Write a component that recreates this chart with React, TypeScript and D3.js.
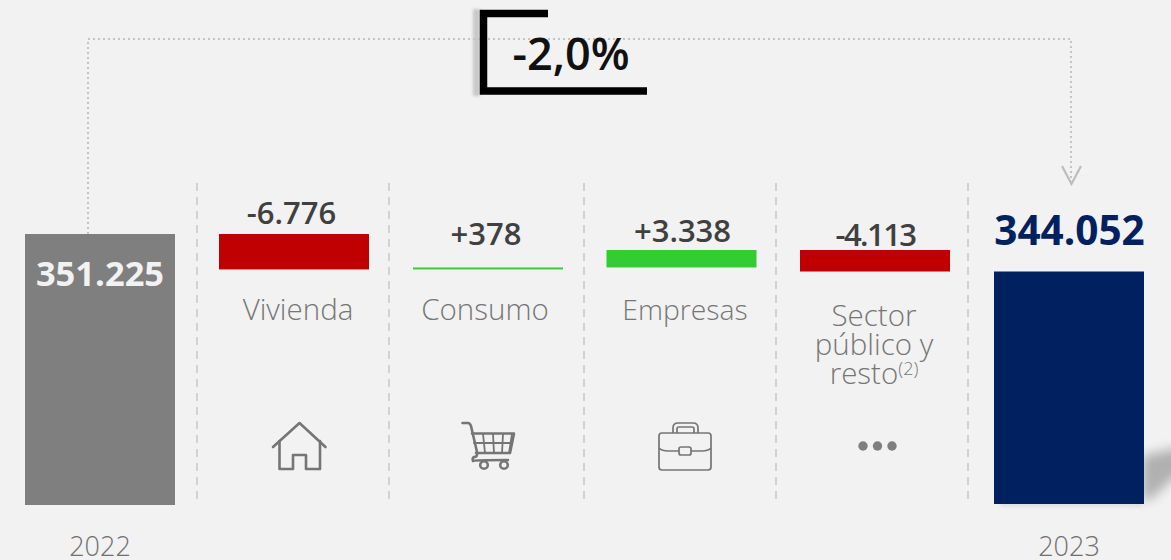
import React from "react";
import * as d3 from "d3";

const FONT = "'Open Sans', 'Noto Sans', sans-serif";
const startYear = "2022";
const endYear = "2023";
const startValue = 351225;
const endValue = 344052;
const startLabel = "351.225";
const endLabel = "344.052";
const deltaLabels = ["-6.776", "+378", "+3.338", "-4.113"];
const deltas = [-6776, 378, 3338, -4113];
const categoryLines = [["Vivienda"], ["Consumo"], ["Empresas"], ["Sector", "público y", "resto"]];
const changeLabel = "-2,0%";

const W = 1171, H = 560;
const y = d3.scaleLinear().domain([299400, 351225]).range([505, 234]);
const barCenters = [100, 294, 488, 681.5, 875, 1069];
const colX = d3.scaleOrdinal<number, number>().domain([0, 1, 2, 3, 4, 5]).range(barCenters);
const barW = 150;
const separators = [197, 389, 584, 776, 968];

const cum = deltas.reduce<number[]>((acc, d) => { acc.push(acc[acc.length - 1] + d); return acc; }, [startValue]);
const labelYs = [224, 245, 242, 246];
const labelXs = [291.5, 486, 682.5, 875.5];
const labelSpacing = [0, 0, 0, -1.6];
const catYs = [320, 320, 320, 326];
const catXs = [298, 485, 685, 874];
const catSizes = [29.5, 29.5, 28.3, 29.5];

const ICON = "#757575";

export default function App() {
  return (
    <svg width={W} height={H} viewBox={`0 0 ${W} ${H}`} style={{ position: "fixed", left: 0, top: 0, background: "#f2f2f2", fontFamily: FONT }}>
      <defs>
        <filter id="b1" x="-50%" y="-50%" width="200%" height="200%"><feGaussianBlur stdDeviation="6" /></filter>
        <filter id="b2" x="-50%" y="-50%" width="200%" height="200%"><feGaussianBlur stdDeviation="2.5" /></filter>
        <filter id="b3" x="-100%" y="-10%" width="300%" height="120%"><feGaussianBlur stdDeviation="1.5" /></filter>
      </defs>
      <rect width={W} height={H} fill="#f2f2f2" />

      {/* shadows */}
      <polygon points="1142,456 1185,446 1185,468 1152,498 1142,502" fill="#b0b0b0" filter="url(#b1)" />
      <rect x={1000} y={500} width={142} height={6} fill="#d8d8d8" filter="url(#b2)" />

      {/* separators */}
      {separators.map((x) => (
        <line key={x} x1={x} x2={x} y1={183} y2={500} stroke="#d2d2d2" strokeWidth={2} strokeDasharray="8 6" />
      ))}

      {/* connector */}
      <path d="M88,234V39H1071V182" fill="none" stroke="#c4c4c4" strokeWidth={2} strokeDasharray="2 3" />
      <path d="M1062,166L1071.5,184L1081,166" fill="none" stroke="#bdbdbd" strokeWidth={2.2} />

      {/* change box */}
      <rect x={473} y={9} width={7} height={87} fill="#c8c8c8" filter="url(#b3)" />
      <path d="M548,13.5H483.5V91H647" fill="none" stroke="#000" strokeWidth={7.5} />
      <text x={571} y={70} textAnchor="middle" fontSize={45} fontWeight={600} fill="#111">{changeLabel}</text>

      {/* totals */}
      <rect x={colX(0) - barW / 2} y={y(startValue)} width={barW} height={y.range()[0] - y(startValue)} fill="#7f7f7f" />
      <rect x={colX(5) - barW / 2} y={y(endValue)} width={barW} height={504 - y(endValue)} fill="#002060" />
      <text x={100} y={286} textAnchor="middle" fontSize={34.5} fontWeight={700} fill="#f2f2f2">{startLabel}</text>
      <text x={1069.5} y={245} textAnchor="middle" fontSize={40.5} fontWeight={700} fill="#002060">{endLabel}</text>

      {/* waterfall */}
      {deltas.map((d, i) => {
        const a = y(cum[i]), b = y(cum[i + 1]);
        const cx = colX(i + 1);
        return (
          <g key={i}>
            <rect x={cx - barW / 2} y={Math.min(a, b)} width={barW} height={Math.abs(b - a)} fill={d < 0 ? "#c00000" : "#33cc33"} />
            <text x={labelXs[i]} y={labelYs[i]} textAnchor="middle" fontSize={31} fontWeight={600} letterSpacing={labelSpacing[i]} fill="#404040">{deltaLabels[i]}</text>
            <text textAnchor="middle" fontSize={catSizes[i]} fontWeight={300} fill="#767676">
              {categoryLines[i].map((line, j) => (
                <tspan key={j} x={catXs[i]} y={catYs[i] + j * 29}>{line}</tspan>
              ))}
              {i === 3 && <tspan fontSize={18} dy={-9}>(2)</tspan>}
            </text>
          </g>
        );
      })}

      {/* years */}
      <text x={100} y={556} textAnchor="middle" fontSize={27} fontWeight={300} fill="#707070">{startYear}</text>
      <text x={1069} y={556} textAnchor="middle" fontSize={27} fontWeight={300} fill="#707070">{endYear}</text>

      {/* house */}
      <g fill="none" stroke={ICON} strokeWidth={2.6} strokeLinejoin="round" strokeLinecap="round">
        <path d="M273,447L299.5,423L325.5,447" />
        <path d="M279.5,441V469H293V455H306V469H320V441" />
      </g>
      {/* cart */}
      <g fill="none" stroke={ICON} strokeWidth={2.2} strokeLinejoin="round" strokeLinecap="round">
        <path d="M462.5,423H468Q470,423 471,426L477,452Q478,457 474,457Q472,458 473,461Q474,460 508,460" strokeWidth={2.6} />
        <path d="M472,433.5H514L510,453H476" strokeWidth={2.6} />
        <path d="M474,443H512M483,434L485,453M493,434L494,453M503,434L502,453M512,434L509,453" strokeWidth={1.8} />
        <circle cx={484} cy={465} r={3.8} strokeWidth={2.6} />
        <circle cx={504} cy={465} r={3.8} strokeWidth={2.6} />
      </g>
      {/* briefcase */}
      <g fill="none" stroke={ICON} strokeWidth={1.7} strokeLinejoin="round">
        <rect x={659} y={433} width={52} height={37} rx={3} />
        <path d="M673,433V428Q673,423 678,423H693Q698,423 698,428V433M677,433V429Q677,427 679,427H692Q694,427 694,429V433" />
        <path d="M659,448Q662,451 668,451H679M691,451H702Q708,451 711,448" />
        <rect x={679} y={447} width={12} height={8} rx={2} />
      </g>
      {/* dots */}
      {[863, 877.5, 892].map((cx) => <circle key={cx} cx={cx} cy={446} r={4.7} fill="#7f7f7f" />)}
    </svg>
  );
}
